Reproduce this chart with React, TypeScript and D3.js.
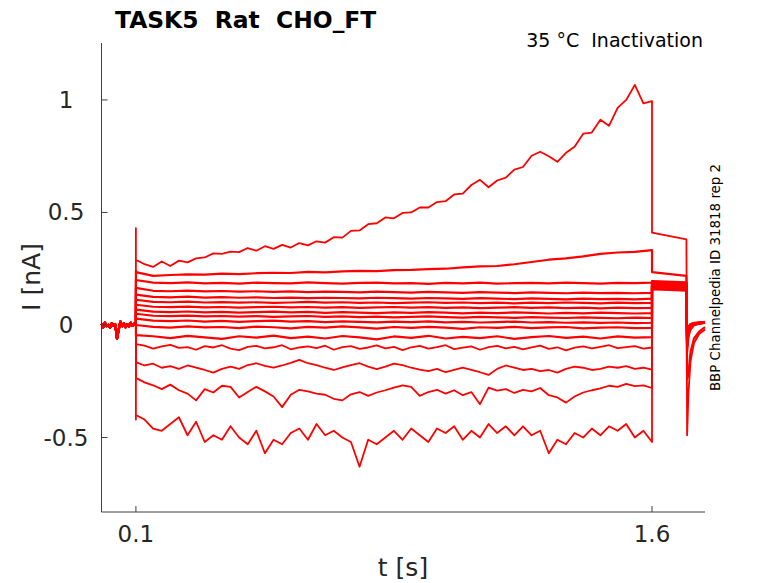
import * as d3 from "d3";

const WIDTH = 778;
const HEIGHT = 583;
const MARGIN = { top: 43, right: 73, bottom: 71, left: 101.5 };
const FONT = "DejaVu Sans, sans-serif";

const X_DOMAIN = [0, 1.754];
const Y_DOMAIN = [-0.831, 1.253];
const X_TICKS = [0.1, 1.6];
const X_TICK_LABELS = ["0.1", "1.6"];
const Y_TICKS = [-0.5, 0, 0.5, 1];
const Y_TICK_LABELS = ["-0.5", "0", "0.5", "1"];

// protocol times [s]
const STEP_START = 0.1;
const STEP_END = 1.6;
const TAIL_END_T = 1.7;
const POST_T = [1.702, 1.706, 1.712, 1.722, 1.737, 1.754];

// holding current before the step (sampled every 5 ms)
const HOLD = [0.005, -0.01, 0.01, -0.005, 0.0, -0.012, 0.008, -0.004, 0.002, -0.06, -0.02, 0.015, -0.005, 0.008, -0.01, 0.004, -0.006, 0.01, -0.004, 0.006, 0.0];

// value right at step onset (capacitive spike)
const ONSET = [0.43, 0.24, 0.2, 0.165, 0.135, 0.112, 0.09, 0.068, 0.05, 0.028, 0.0, -0.045, -0.085, -0.165, -0.235, -0.42];

// step currents [nA], fine traces every 25 ms, flat traces every 50 ms
const STEP_A = [0.29, 0.27, 0.258, 0.282, 0.262, 0.286, 0.278, 0.296, 0.3, 0.318, 0.316, 0.326, 0.324, 0.342, 0.33, 0.35, 0.338, 0.356, 0.344, 0.364, 0.354, 0.372, 0.366, 0.39, 0.388, 0.418, 0.42, 0.448, 0.452, 0.478, 0.474, 0.498, 0.5, 0.522, 0.522, 0.546, 0.55, 0.58, 0.584, 0.622, 0.645, 0.612, 0.642, 0.655, 0.69, 0.702, 0.752, 0.77, 0.75, 0.725, 0.765, 0.792, 0.85, 0.855, 0.912, 0.885, 0.965, 1.0, 1.067, 0.985, 0.995];
const STEP_B = [0.235, 0.218, 0.222, 0.225, 0.224, 0.228, 0.226, 0.23, 0.232, 0.231, 0.236, 0.234, 0.238, 0.24, 0.239, 0.244, 0.245, 0.248, 0.25, 0.256, 0.26, 0.262, 0.27, 0.28, 0.29, 0.296, 0.305, 0.316, 0.322, 0.325, 0.333];
const STEP_C = [0.2, 0.188, 0.186, 0.189, 0.185, 0.187, 0.184, 0.188, 0.186, 0.185, 0.189, 0.186, 0.184, 0.187, 0.188, 0.185, 0.186, 0.183, 0.187, 0.185, 0.188, 0.184, 0.186, 0.187, 0.185, 0.188, 0.186, 0.184, 0.187, 0.186, 0.188];
const STEP_D = [0.165, 0.152, 0.15, 0.153, 0.149, 0.151, 0.148, 0.15, 0.147, 0.149, 0.146, 0.148, 0.147, 0.145, 0.148, 0.146, 0.144, 0.147, 0.145, 0.143, 0.146, 0.144, 0.142, 0.145, 0.143, 0.141, 0.144, 0.142, 0.143, 0.141, 0.143];
const STEP_E = [0.135, 0.125, 0.123, 0.126, 0.122, 0.124, 0.121, 0.123, 0.12, 0.122, 0.119, 0.121, 0.12, 0.118, 0.121, 0.119, 0.117, 0.12, 0.118, 0.116, 0.119, 0.117, 0.115, 0.118, 0.116, 0.114, 0.117, 0.115, 0.116, 0.114, 0.117];
const STEP_F = [0.112, 0.103, 0.101, 0.104, 0.1, 0.102, 0.099, 0.101, 0.098, 0.1, 0.103, 0.099, 0.101, 0.098, 0.1, 0.097, 0.099, 0.101, 0.098, 0.1, 0.097, 0.099, 0.096, 0.099, 0.097, 0.1, 0.098, 0.096, 0.099, 0.097, 0.098];
const STEP_G = [0.09, 0.081, 0.079, 0.082, 0.078, 0.08, 0.077, 0.079, 0.081, 0.078, 0.08, 0.077, 0.079, 0.076, 0.078, 0.08, 0.077, 0.079, 0.076, 0.078, 0.075, 0.077, 0.079, 0.076, 0.078, 0.075, 0.077, 0.074, 0.077, 0.075, 0.076];
const STEP_H = [0.068, 0.059, 0.057, 0.06, 0.056, 0.058, 0.055, 0.057, 0.059, 0.056, 0.058, 0.054, 0.057, 0.055, 0.053, 0.056, 0.054, 0.057, 0.055, 0.052, 0.055, 0.053, 0.056, 0.054, 0.051, 0.054, 0.052, 0.055, 0.053, 0.051, 0.053];
const STEP_I = [0.05, 0.041, 0.039, 0.042, 0.038, 0.04, 0.037, 0.039, 0.036, 0.038, 0.04, 0.036, 0.038, 0.035, 0.037, 0.034, 0.036, 0.038, 0.035, 0.033, 0.036, 0.034, 0.032, 0.035, 0.033, 0.031, 0.034, 0.032, 0.03, 0.033, 0.031];
const STEP_J = [0.028, 0.019, 0.017, 0.02, 0.015, 0.018, 0.014, 0.017, 0.019, 0.015, 0.017, 0.013, 0.016, 0.014, 0.012, 0.015, 0.013, 0.016, 0.012, 0.014, 0.011, 0.013, 0.015, 0.011, 0.013, 0.01, 0.012, 0.009, 0.011, 0.008, 0.01];
const STEP_K = [0.0, -0.008, -0.012, -0.006, -0.011, -0.009, -0.014, -0.007, -0.01, -0.015, -0.008, -0.012, -0.006, -0.011, -0.016, -0.009, -0.013, -0.008, -0.012, -0.017, -0.01, -0.013, -0.008, -0.014, -0.011, -0.009, -0.015, -0.012, -0.01, -0.014, -0.013];
const STEP_L = [-0.045, -0.05, -0.058, -0.048, -0.055, -0.062, -0.05, -0.056, -0.047, -0.058, -0.052, -0.06, -0.049, -0.055, -0.064, -0.051, -0.057, -0.048, -0.06, -0.053, -0.058, -0.05, -0.062, -0.054, -0.049, -0.057, -0.052, -0.06, -0.051, -0.056, -0.054];
const STEP_M = [-0.085, -0.092, -0.105, -0.095, -0.088, -0.102, -0.098, -0.11, -0.094, -0.1, -0.09, -0.105, -0.112, -0.097, -0.093, -0.104, -0.099, -0.09, -0.108, -0.1, -0.095, -0.103, -0.092, -0.11, -0.098, -0.094, -0.106, -0.1, -0.091, -0.104, -0.097, -0.112, -0.099, -0.093, -0.105, -0.098, -0.09, -0.107, -0.101, -0.095, -0.11, -0.098, -0.093, -0.104, -0.097, -0.108, -0.1, -0.092, -0.106, -0.099, -0.113, -0.101, -0.095, -0.104, -0.097, -0.09, -0.103, -0.098, -0.094, -0.105, -0.1];
const STEP_N = [-0.165, -0.18, -0.172, -0.19, -0.183, -0.195, -0.18, -0.19, -0.2, -0.212, -0.195, -0.185, -0.195, -0.178, -0.17, -0.182, -0.19, -0.18, -0.168, -0.155, -0.17, -0.178, -0.19, -0.2, -0.188, -0.178, -0.17, -0.185, -0.196, -0.185, -0.172, -0.178, -0.19, -0.198, -0.205, -0.195, -0.21, -0.2, -0.19, -0.2, -0.21, -0.222, -0.195, -0.18, -0.19, -0.2, -0.195, -0.205, -0.2, -0.212, -0.195, -0.185, -0.19, -0.2, -0.195, -0.185, -0.19, -0.183, -0.195, -0.19, -0.198];
const STEP_O = [-0.235, -0.255, -0.268, -0.285, -0.265, -0.29, -0.305, -0.335, -0.285, -0.3, -0.27, -0.275, -0.322, -0.298, -0.275, -0.295, -0.318, -0.365, -0.31, -0.288, -0.295, -0.305, -0.31, -0.328, -0.335, -0.308, -0.298, -0.315, -0.3, -0.29, -0.278, -0.268, -0.275, -0.315, -0.298, -0.288, -0.305, -0.29, -0.312, -0.298, -0.352, -0.278, -0.292, -0.285, -0.302, -0.288, -0.295, -0.28, -0.312, -0.322, -0.345, -0.318, -0.3, -0.29, -0.282, -0.27, -0.275, -0.262, -0.272, -0.268, -0.28];
const STEP_P = [-0.4, -0.42, -0.46, -0.47, -0.44, -0.41, -0.49, -0.43, -0.52, -0.49, -0.51, -0.45, -0.5, -0.53, -0.47, -0.57, -0.51, -0.53, -0.48, -0.46, -0.51, -0.44, -0.49, -0.47, -0.5, -0.52, -0.63, -0.51, -0.53, -0.5, -0.47, -0.51, -0.46, -0.49, -0.52, -0.46, -0.48, -0.45, -0.51, -0.47, -0.5, -0.44, -0.48, -0.45, -0.49, -0.45, -0.49, -0.47, -0.57, -0.51, -0.53, -0.48, -0.5, -0.46, -0.49, -0.45, -0.47, -0.44, -0.5, -0.47, -0.52];

// tail currents after the step, at 1.6 s and 1.7 s
const TAIL_START = [0.41, 0.235, 0.195, 0.19, 0.185, 0.182, 0.18, 0.177, 0.175, 0.172, 0.17, 0.167, 0.165, 0.162, 0.16, 0.158];
const TAIL_END = [0.38, 0.218, 0.19, 0.186, 0.182, 0.178, 0.175, 0.172, 0.17, 0.168, 0.165, 0.163, 0.16, 0.158, 0.155, 0.152];

// recovery after the tail, at POST_T
const POST = [
  [-0.49, -0.3, -0.16, -0.08, -0.04, -0.02],
  [-0.24, -0.22, -0.12, -0.06, -0.03, -0.01],
  [-0.12, -0.05, -0.02, 0.0, 0.005, 0.01],
  [-0.1, -0.04, -0.015, 0.0, 0.008, 0.012],
  [-0.09, -0.035, -0.01, 0.002, 0.006, 0.01],
  [-0.085, -0.03, -0.012, 0.004, 0.01, 0.013],
  [-0.08, -0.03, -0.008, 0.003, 0.007, 0.011],
  [-0.075, -0.025, -0.006, 0.005, 0.009, 0.012],
  [-0.07, -0.022, -0.005, 0.004, 0.008, 0.01],
  [-0.065, -0.02, -0.004, 0.006, 0.01, 0.013],
  [-0.06, -0.018, -0.002, 0.005, 0.009, 0.011],
  [-0.055, -0.015, 0.0, 0.007, 0.01, 0.012],
  [-0.05, -0.012, 0.002, 0.008, 0.011, 0.013],
  [-0.045, -0.01, 0.003, 0.007, 0.01, 0.012],
  [-0.04, -0.008, 0.004, 0.009, 0.012, 0.014],
  [-0.035, -0.005, 0.005, 0.01, 0.012, 0.015],
];

const STEPS = [STEP_A, STEP_B, STEP_C, STEP_D, STEP_E, STEP_F, STEP_G, STEP_H, STEP_I, STEP_J, STEP_K, STEP_L, STEP_M, STEP_N, STEP_O, STEP_P];

type Pt = [number, number];

function tracePoints(k: number): Pt[] {
  const pts: Pt[] = HOLD.map((v, i) => [(i * STEP_START) / (HOLD.length - 1), v] as Pt);
  pts.push([STEP_START, ONSET[k]]);
  const step = STEPS[k];
  step.forEach((v, i) => {
    pts.push([STEP_START + (i * (STEP_END - STEP_START)) / (step.length - 1), v]);
  });
  pts.push([STEP_END, TAIL_START[k]]);
  pts.push([TAIL_END_T, TAIL_END[k]]);
  POST[k].forEach((v, i) => pts.push([POST_T[i], v]));
  return pts;
}

export default function App() {
  const x = d3.scaleLinear().domain(X_DOMAIN).range([MARGIN.left, WIDTH - MARGIN.right]);
  const y = d3.scaleLinear().domain(Y_DOMAIN).range([HEIGHT - MARGIN.bottom, MARGIN.top]);
  const line = d3
    .line<Pt>()
    .x((d) => x(d[0]))
    .y((d) => y(d[1]));
  const x0 = MARGIN.left;
  const x1 = WIDTH - MARGIN.right;
  const yb = HEIGHT - MARGIN.bottom;
  const axisColor = "#404040";
  const textColor = "#262626";

  return (
    <svg
      width={WIDTH}
      height={HEIGHT}
      style={{ position: "absolute", left: 0, top: 0, background: "#fff" }}
      fontFamily={FONT}
    >
      <g>
        {STEPS.map((s, k) => (
          <path
            key={k}
            d={line(tracePoints(k)) as string}
            fill="none"
            stroke="#ff0000"
            strokeWidth={s.length > 40 ? 1.8 : 2.2}
            strokeLinejoin="round"
          />
        ))}
      </g>

      {/* axes */}
      <line x1={x0} x2={x0} y1={MARGIN.top} y2={yb} stroke={axisColor} />
      <line x1={x0} x2={x1} y1={yb} y2={yb} stroke={axisColor} />
      {Y_TICKS.map((t, i) => (
        <g key={t}>
          <line x1={x0} x2={x0 + 6} y1={y(t)} y2={y(t)} stroke={axisColor} />
          <text x={66} y={y(t) + 8} textAnchor="middle" fontSize={23} fill={textColor}>
            {Y_TICK_LABELS[i]}
          </text>
        </g>
      ))}
      {X_TICKS.map((t, i) => (
        <g key={t}>
          <line x1={x(t)} x2={x(t)} y1={yb} y2={yb - 6} stroke={axisColor} />
          <text x={x(t)} y={542} textAnchor="middle" fontSize={23} fill={textColor}>
            {X_TICK_LABELS[i]}
          </text>
        </g>
      ))}

      <text x={403} y={576} textAnchor="middle" fontSize={25} fill={textColor}>
        t [s]
      </text>
      <text
        transform={`translate(40, 277) rotate(-90)`}
        textAnchor="middle"
        fontSize={25}
        fill={textColor}
      >
        I [nA]
      </text>

      <text x={115} y={28} fontSize={23.4} fontWeight="bold" fill="#000" style={{ whiteSpace: "pre" }}>
        {"TASK5  Rat  CHO_FT"}
      </text>
      <text x={703} y={47} textAnchor="end" fontSize={19} fill="#000" style={{ whiteSpace: "pre" }}>
        {"35 °C  Inactivation"}
      </text>
      <text
        transform={`translate(720, 277.5) rotate(-90)`}
        textAnchor="middle"
        fontSize={13.4}
        fill="#000"
      >
        BBP Channelpedia ID 31818 rep 2
      </text>
    </svg>
  );
}
